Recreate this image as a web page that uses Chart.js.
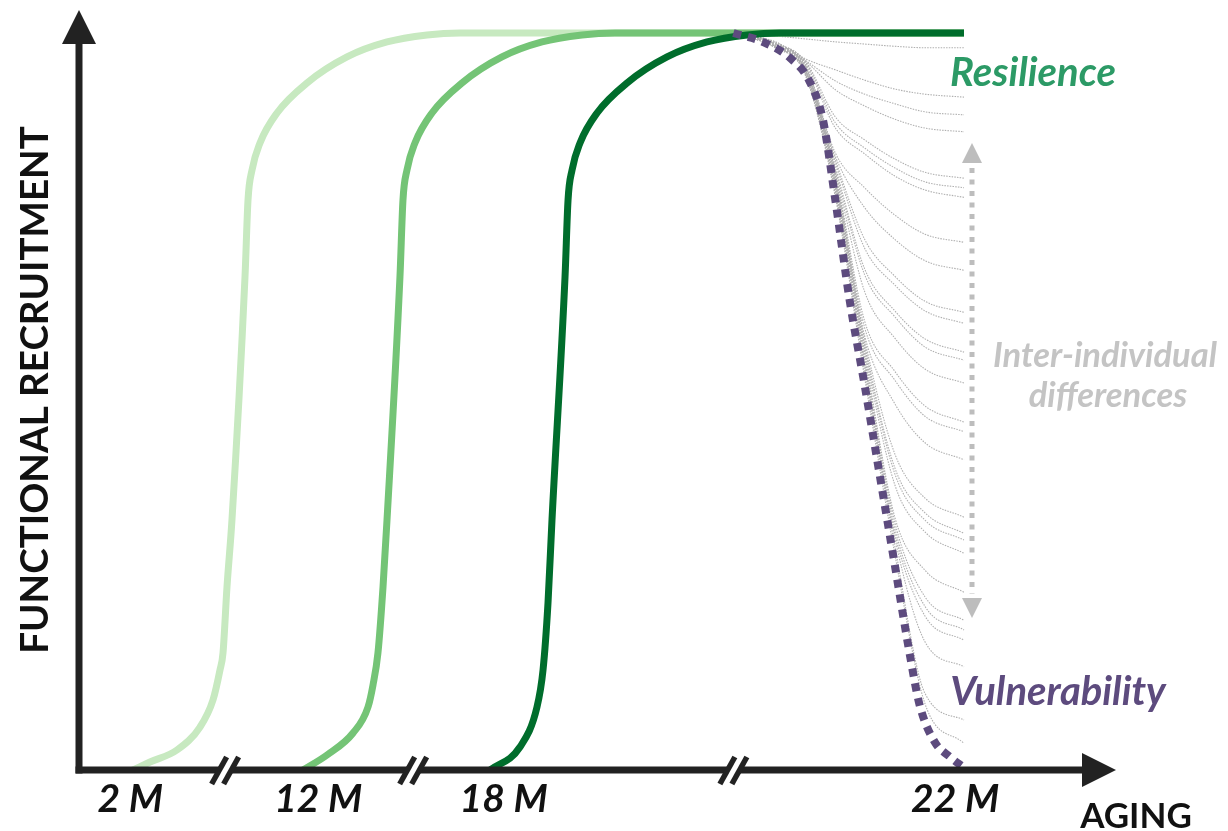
<!DOCTYPE html>
<html>
<head>
<meta charset="utf-8">
<script src="https://cdn.jsdelivr.net/npm/chart.js@4/dist/chart.umd.min.js"></script>
<style>
  html, body { margin: 0; padding: 0; background: #ffffff; }
  #wrap { width: 1228px; height: 831px; }
</style>
</head>
<body>
<div id="wrap"><canvas id="c" width="1228" height="831"></canvas></div>
<script>
// ---------------- DATA (conceptual units: x = ageing 0..100, y = recruitment 0..100) ----------------
const tickLabels = ['2 M', '12 M', '18 M', '22 M'];
const tickValues = [6.0, 27.2, 48.1, 99.0];
const breakValues = [16.7, 37.9, 74.0];

// age group curves
const curve2mX  = [6.31, 8.23, 11.27, 13.87, 15.33, 16.12, 16.46, 16.91, 17.47, 18.94, 19.28, 19.73, 20.63, 22.55, 25.93, 30.44, 34.95, 39.46, 43.18, 100];
const curve2mY  = [0, 1.09, 2.71, 5.83, 9.50, 13.57, 15.88, 24.83, 33.92, 66.90, 77.35, 81.41, 85.08, 89.15, 93.22, 96.75, 98.78, 99.73, 100, 100];
const curve12mX = [25.48, 28.19, 31.12, 32.81, 33.37, 33.93, 34.50, 34.95, 36.41, 36.75, 37.20, 38.10, 40.02, 43.40, 47.91, 52.42, 56.93, 60.65, 100];
const curve12mY = [0, 2.04, 5.02, 8.55, 11.53, 15.88, 24.83, 33.92, 66.90, 77.35, 81.41, 85.08, 89.15, 93.22, 96.75, 98.78, 99.73, 100, 100];
const curve18mX = [46.56, 49.94, 51.86, 52.54, 53.10, 53.55, 55.02, 55.36, 55.81, 56.71, 58.63, 62.01, 66.52, 71.03, 75.54, 79.26, 100];
const curve18mY = [0, 3.12, 8.55, 13.57, 22.66, 33.92, 66.90, 77.35, 81.41, 85.08, 89.15, 93.22, 96.75, 98.78, 99.73, 100, 100];

// vulnerability trajectory (22 M)
const vulnX = [74.0, 77.3, 80.4, 82.6, 84.1, 85.5, 87.1, 88.8, 90.5, 92.2, 93.9, 95.0, 96.7, 98.4, 99.9];
const vulnY = [100, 98.8, 96.6, 93.4, 88.2, 77.3, 63.8, 52.2, 40.0, 27.8, 15.6, 8.8, 3.8, 1.8, 0.4];

// individual trajectories (22 M)
const indivX = [74.0, 78.7, 82.1, 85.5, 88.8, 92.2, 95.6, 100];
const indivY = [
  [100, 98.0, 94.3, 77.7, 53.2, 29.3, 9.0, 3.6],
  [100, 98.1, 94.4, 78.1, 53.9, 30.4, 10.4, 6.8],
  [100, 98.1, 94.4, 78.4, 54.7, 31.5, 17.4, 14.0],
  [100, 98.1, 94.6, 78.7, 55.1, 32.1, 20.9, 17.6],
  [100, 98.1, 94.6, 79.0, 55.6, 32.8, 22.2, 19.0],
  [100, 98.1, 94.6, 79.1, 56.0, 33.6, 23.5, 20.3],
  [100, 98.1, 94.7, 79.4, 56.6, 34.3, 27.1, 24.1],
  [100, 98.1, 94.7, 79.6, 57.0, 38.7, 32.3, 29.4],
  [100, 98.2, 94.8, 79.8, 57.5, 40.2, 33.9, 31.2],
  [100, 98.2, 94.8, 80.1, 57.9, 41.0, 34.9, 32.1],
  [100, 98.2, 95.0, 80.3, 58.5, 42.9, 36.9, 34.3],
  [100, 98.2, 95.0, 80.5, 58.9, 49.7, 44.4, 42.1],
  [100, 98.2, 95.0, 80.7, 60.0, 52.9, 48.0, 45.9],
  [100, 98.2, 95.1, 81.0, 60.9, 54.1, 49.4, 47.2],
  [100, 98.4, 95.1, 81.1, 64.9, 58.6, 54.4, 52.5],
  [100, 98.4, 95.3, 81.4, 67.2, 61.5, 57.4, 55.6],
  [100, 98.4, 95.4, 81.8, 68.0, 62.3, 58.5, 56.7],
  [100, 98.4, 95.4, 82.4, 70.8, 65.8, 62.3, 60.6],
  [100, 98.5, 95.5, 82.8, 72.0, 67.0, 63.6, 62.1],
  [100, 98.5, 95.7, 83.2, 76.3, 72.0, 69.1, 67.8],
  [100, 98.5, 95.8, 83.7, 79.0, 75.3, 72.7, 71.6],
  [100, 98.6, 95.9, 87.1, 83.6, 80.6, 78.7, 77.7],
  [100, 98.6, 96.1, 87.8, 84.4, 81.7, 79.8, 79.0],
  [100, 98.6, 96.2, 88.6, 85.5, 82.9, 81.1, 80.3],
  [100, 98.6, 96.2, 92.3, 90.1, 88.3, 87.1, 86.6],
  [100, 98.8, 96.3, 93.5, 91.7, 90.4, 89.3, 88.9],
  [100, 98.8, 96.5, 95.0, 93.6, 92.4, 91.7, 91.3],
  [100, 99.6, 99.2, 98.8, 98.5, 98.2, 98.0, 98.0]
];

// ---------------- STYLE ----------------
const AXIS = '#222222';
const FONT = 'Lato, "Open Sans", sans-serif';

function pts(xs, ys) { return xs.map((x, i) => ({ x: x, y: ys[i] })); }

const datasets = [];
indivY.forEach((ys, k) => {
  datasets.push({
    label: 'individual ' + (k + 1), data: pts(indivX, ys),
    borderColor: '#b0b0b0', borderWidth: 1.1, borderDash: [1.5, 1.2],
    cubicInterpolationMode: 'monotone', pointRadius: 0, clip: false, order: 50
  });
});
datasets.push({ label: '2 M', data: pts(curve2mX, curve2mY), borderColor: '#c7e9c0', borderWidth: 7,
  cubicInterpolationMode: 'monotone', pointRadius: 0, clip: false, order: 40 });
datasets.push({ label: '12 M', data: pts(curve12mX, curve12mY), borderColor: '#74c476', borderWidth: 7,
  cubicInterpolationMode: 'monotone', pointRadius: 0, clip: false, order: 30 });
datasets.push({ label: '18 M', data: pts(curve18mX, curve18mY), borderColor: '#006d2c', borderWidth: 7,
  cubicInterpolationMode: 'monotone', pointRadius: 0, clip: false, order: 20 });
datasets.push({ label: 'Vulnerability', data: pts(vulnX, vulnY), borderColor: '#5d4b7e', borderWidth: 8,
  borderDash: [8, 7], borderCapStyle: 'butt',
  cubicInterpolationMode: 'monotone', pointRadius: 0, clip: false, order: 10 });

const overlay = {
  id: 'overlay',
  afterDatasetsDraw(chart) {
    const { ctx, scales: { x, y } } = chart;
    const ox = x.getPixelForValue(0) + 2;
    const oy = y.getPixelForValue(0);
    ctx.save();
    // axes
    ctx.strokeStyle = AXIS; ctx.fillStyle = AXIS; ctx.lineWidth = 7; ctx.lineCap = 'butt';
    ctx.beginPath(); ctx.moveTo(ox, oy + 3.5); ctx.lineTo(ox, 40); ctx.stroke();
    ctx.beginPath(); ctx.moveTo(ox - 3.5, oy); ctx.lineTo(1085, oy); ctx.stroke();
    // arrow heads
    ctx.beginPath(); ctx.moveTo(ox, 10); ctx.lineTo(ox - 17, 44); ctx.lineTo(ox + 17, 44); ctx.closePath(); ctx.fill();
    ctx.beginPath(); ctx.moveTo(1116, oy); ctx.lineTo(1082, oy - 17); ctx.lineTo(1082, oy + 17); ctx.closePath(); ctx.fill();
    // axis breaks
    breakValues.forEach(v => {
      const cx = x.getPixelForValue(v);
      ctx.fillStyle = '#ffffff';
      ctx.fillRect(cx - 6, oy - 5, 12, 10);
      ctx.strokeStyle = AXIS; ctx.lineWidth = 5.5;
      [-6, 6].forEach(d => {
        ctx.beginPath(); ctx.moveTo(cx + d - 7.5, oy + 14); ctx.lineTo(cx + d + 7.5, oy - 13); ctx.stroke();
      });
    });
    // tick labels
    ctx.fillStyle = '#111111';
    ctx.font = 'italic bold 39px ' + FONT;
    ctx.textAlign = 'center'; ctx.textBaseline = 'alphabetic';
    tickLabels.forEach((t, i) => ctx.fillText(t, x.getPixelForValue(tickValues[i]), 812));
    // axis titles
    ctx.font = 'bold 35px ' + FONT;
    ctx.fillText('AGING', 1136, 828);
    ctx.save();
    ctx.translate(48, 390); ctx.rotate(-Math.PI / 2);
    ctx.font = 'bold 38.5px ' + FONT;
    ctx.fillText('FUNCTIONAL RECRUITMENT', 0, 0);
    ctx.restore();
    // annotations
    ctx.font = 'italic bold 40px ' + FONT;
    ctx.fillStyle = '#2c9a66';
    ctx.fillText('Resilience', 1033, 86);
    ctx.fillStyle = '#5d4b7e';
    ctx.fillText('Vulnerability', 1058, 705);
    ctx.fillStyle = '#c4c4c4';
    ctx.font = 'italic bold 34.5px ' + FONT;
    ctx.fillText('Inter-individual', 1105, 367);
    ctx.fillText('differences', 1108, 407);
    // double arrow (inter-individual range)
    const ax = x.getPixelForValue(100) + 8;
    ctx.strokeStyle = '#bdbdbd'; ctx.fillStyle = '#bdbdbd';
    ctx.lineWidth = 5; ctx.setLineDash([5, 6.5]);
    ctx.beginPath(); ctx.moveTo(ax, 168); ctx.lineTo(ax, 594); ctx.stroke();
    ctx.setLineDash([]);
    ctx.beginPath(); ctx.moveTo(ax, 143); ctx.lineTo(ax - 10, 163); ctx.lineTo(ax + 10, 163); ctx.closePath(); ctx.fill();
    ctx.beginPath(); ctx.moveTo(ax, 618); ctx.lineTo(ax - 10, 598); ctx.lineTo(ax + 10, 598); ctx.closePath(); ctx.fill();
    ctx.restore();
  }
};

new Chart(document.getElementById('c').getContext('2d'), {
  type: 'line',
  data: { datasets: datasets },
  options: {
    responsive: false, animation: false, devicePixelRatio: 1,
    layout: { padding: { left: 77, right: 264, top: 33, bottom: 61 } },
    scales: {
      x: { type: 'linear', min: 0, max: 100, display: false },
      y: { type: 'linear', min: 0, max: 100, display: false }
    },
    plugins: { legend: { display: false }, tooltip: { enabled: false } },
    elements: { point: { radius: 0 } }
  },
  plugins: [overlay]
});
</script>
</body>
</html>
